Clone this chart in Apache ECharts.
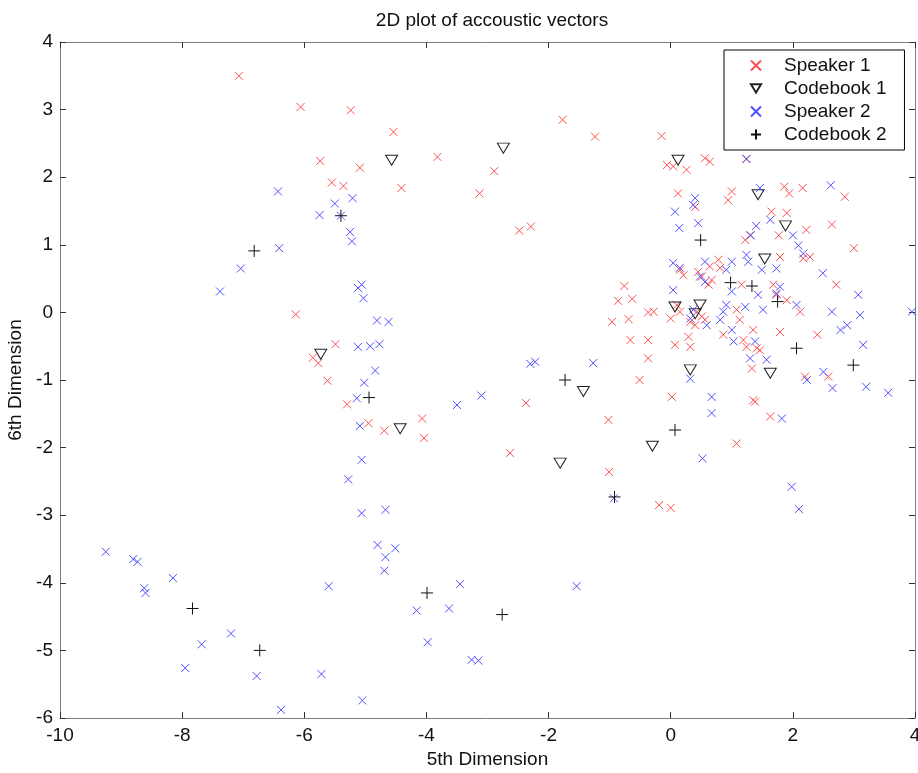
<!DOCTYPE html>
<html>
<head>
<meta charset="utf-8">
<script src="https://cdn.jsdelivr.net/npm/echarts@6/dist/echarts.min.js"></script>
<style>
  html, body { margin: 0; padding: 0; background: #fff; }
  #chart { width: 918px; height: 773px; }
</style>
</head>
<body>
<div id="chart"></div>
<script>
// speaker 1 acoustic vectors (5th dim, 6th dim)
const speaker1 = [
  [-7.07, 3.50], [-6.06, 3.04], [-5.24, 2.99], [-4.54, 2.67], [-5.74, 2.24], [-3.82, 2.30],
  [-5.09, 2.14], [-5.55, 1.92], [-5.36, 1.87], [-4.41, 1.84], [-2.89, 2.09], [-3.13, 1.76],
  [-2.48, 1.21], [-2.29, 1.27], [-1.77, 2.85], [-1.24, 2.60],
  [-0.15, 2.61], [-0.06, 2.18], [0.04, 2.16], [0.26, 2.11], [0.56, 2.28], [0.64, 2.23],
  [0.12, 1.76], [1.00, 1.79], [0.94, 1.66], [1.86, 1.86], [1.94, 1.76], [2.16, 1.84],
  [2.85, 1.71], [0.40, 1.56], [1.65, 1.49], [1.90, 1.47], [2.64, 1.30], [2.22, 1.22],
  [1.77, 1.14], [1.22, 1.07], [1.30, 1.14], [3.00, 0.95], [1.24, 2.27],
  [0.15, 0.63], [0.21, 0.55], [0.45, 0.60], [0.51, 0.53], [0.64, 0.68], [0.78, 0.78],
  [0.81, 0.66], [0.67, 0.48], [0.62, 0.41], [1.79, 0.82], [2.17, 0.80], [2.28, 0.82],
  [1.16, 0.41], [1.68, 0.41], [1.73, 0.26], [1.90, 0.18], [2.71, 0.41], [-0.28, 0.01],
  [0.00, -0.09], [0.10, 0.11], [0.15, 0.01], [0.32, -0.14], [0.40, -0.19], [0.43, 0.01],
  [0.51, -0.06], [0.56, -0.11], [1.08, 0.04], [1.13, -0.11], [0.86, -0.33], [1.35, -0.26],
  [1.19, -0.41], [1.24, -0.51], [1.41, -0.53], [1.46, -0.56], [1.33, -0.83], [1.79, -0.29],
  [2.40, -0.33], [2.12, 0.01], [0.07, -0.48], [0.32, -0.51], [0.29, -0.36], [0.02, -1.25],
  [1.35, -1.30], [1.38, -1.32], [1.63, -1.54], [1.08, -1.94], [2.20, -0.95], [2.58, -0.95],
  [-0.76, 0.39], [-0.86, 0.17], [-0.63, 0.20], [-0.96, -0.14], [-0.69, -0.10], [-0.66, -0.41],
  [-0.51, -1.00], [-0.37, -0.68], [-0.37, -0.41], [-0.37, 0.00],
  [-6.14, -0.03], [-5.49, -0.47], [-5.86, -0.67], [-5.77, -0.75], [-5.62, -1.01], [-5.30, -1.36],
  [-4.95, -1.64], [-4.69, -1.75], [-4.07, -1.57], [-4.04, -1.86], [-2.37, -1.34], [-2.63, -2.08],
  [-1.02, -1.59], [-1.01, -2.36], [-0.19, -2.85], [0.00, -2.89]
];

// codebook 1 centroids
const codebook1 = [
  [0.12, 2.25], [1.43, 1.74], [1.88, 1.28], [1.54, 0.79], [-4.57, 2.25], [-2.74, 2.43],
  [-5.73, -0.62], [-4.43, -1.72], [-1.43, -1.17], [-1.81, -2.23], [-0.30, -1.98], [0.07, 0.08],
  [0.40, -0.02], [0.48, 0.11], [0.32, -0.85], [1.63, -0.90]
];

// speaker 2 acoustic vectors
const speaker2 = [
  [1.24, 2.27], [2.62, 1.88], [1.46, 1.84], [0.40, 1.69], [0.37, 1.59], [0.07, 1.49],
  [0.14, 1.25], [0.45, 1.32], [1.63, 1.37], [1.40, 1.28], [2.00, 1.14], [2.09, 0.99],
  [2.17, 0.87], [1.31, 1.14],
  [0.04, 0.73], [0.15, 0.66], [0.56, 0.75], [1.00, 0.75], [1.24, 0.85], [1.27, 0.75],
  [1.49, 0.63], [1.73, 0.65], [2.49, 0.58], [0.48, 0.53], [0.56, 0.45], [0.91, 0.63],
  [0.04, 0.33], [1.00, 0.31], [1.43, 0.26], [1.79, 0.38], [1.73, 0.28], [2.06, 0.11],
  [1.51, 0.04], [1.22, 0.08], [0.91, 0.11], [0.86, 0.01], [0.81, -0.11], [0.37, 0.04],
  [0.32, -0.09], [0.59, -0.19], [1.00, -0.26], [1.03, -0.43], [1.38, -0.43], [1.30, -0.68],
  [1.57, -0.70], [2.64, 0.01], [3.07, 0.26], [3.10, -0.04], [2.78, -0.26], [2.89, -0.19],
  [3.15, -0.48], [3.95, 0.01], [0.32, -0.98], [0.67, -1.25], [0.67, -1.49], [1.82, -1.57],
  [2.50, -0.88], [2.23, -1.00], [2.65, -1.12], [3.20, -1.10], [3.56, -1.19], [0.52, -2.16],
  [1.98, -2.58], [2.10, -2.91],
  [-1.27, -0.75], [-2.30, -0.76], [-2.22, -0.73], [-3.10, -1.23], [-3.50, -1.37], [-1.54, -4.05],
  [-0.93, -2.75],
  [-6.43, 1.79], [-5.50, 1.61], [-5.21, 1.69], [-5.75, 1.44], [-5.40, 1.43], [-5.25, 1.19],
  [-5.22, 1.05], [-6.41, 0.95], [-7.04, 0.65], [-7.38, 0.31], [-5.12, 0.36], [-5.06, 0.41],
  [-5.03, 0.21], [-4.81, -0.12], [-4.62, -0.14], [-5.12, -0.51], [-4.92, -0.50], [-4.77, -0.47],
  [-4.84, -0.86], [-5.02, -1.04], [-5.14, -1.27], [-5.09, -1.68], [-5.06, -2.18], [-5.28, -2.47],
  [-5.06, -2.97], [-4.67, -2.92], [-4.80, -3.44], [-4.51, -3.49], [-4.67, -3.62], [-4.69, -3.82],
  [-3.45, -4.02], [-4.16, -4.41], [-3.63, -4.38], [-3.98, -4.88], [-3.26, -5.14], [-3.15, -5.15],
  [-5.05, -5.74], [-5.60, -4.05], [-9.25, -3.54], [-8.80, -3.65], [-8.73, -3.69], [-8.62, -4.08],
  [-8.60, -4.15], [-8.15, -3.93], [-7.68, -4.91], [-7.20, -4.75], [-7.95, -5.26], [-6.78, -5.38],
  [-5.72, -5.35], [-6.38, -5.88]
];

// codebook 2 centroids
const codebook2 = [
  [-6.82, 0.91], [-5.40, 1.43], [-4.94, -1.26], [-1.73, -1.00], [0.49, 1.07], [0.98, 0.44],
  [1.33, 0.39], [1.75, 0.16], [2.06, -0.53], [2.99, -0.78], [0.07, -1.74], [-0.92, -2.73],
  [-7.83, -4.38], [-6.73, -5.00], [-3.99, -4.15], [-2.76, -4.47]
];

const seriesNames = ['Speaker 1', 'Codebook 1', 'Speaker 2', 'Codebook 2'];

const FONT = 'Liberation Sans, Arial, sans-serif';
const X_MARK = 'path://M0,0L10,10M0,10L10,0';
const TRI_DOWN = 'path://M0,0L12,0L6,10Z';
const PLUS = 'path://M6,0L6,12M0,6L12,6';

const chart = echarts.init(document.getElementById('chart'), null, { renderer: 'canvas' });

const markerSeries = (name, data, symbol, size, color) => ({
  name: name,
  type: 'scatter',
  data: data,
  symbol: symbol,
  symbolSize: size,
  itemStyle: { color: 'rgba(0,0,0,0)', borderColor: color, borderWidth: 1, opacity: 1 },
  emphasis: { disabled: true },
  silent: true
});

const baseAxis = {
  axisLine: { show: true, onZero: false, lineStyle: { color: '#7f7f7f', width: 1 } },
  axisTick: { show: true, inside: true, length: 6, lineStyle: { color: '#333' } },
  splitLine: { show: false }
};

const option = {
  animation: false,
  backgroundColor: '#fff',
  title: {
    text: '2D plot of accoustic vectors',
    left: 487,
    top: 6,
    textAlign: 'center',
    textStyle: { fontFamily: FONT, fontSize: 19, fontWeight: 'normal', color: '#111' }
  },
  grid: { left: 60, right: 3, top: 42, bottom: 55, containLabel: false, outerBoundsMode: 'none' },
  legend: {
    data: seriesNames,
    orient: 'vertical',
    left: 724,
    top: 50,
    padding: [6, 18, 6, 26],
    itemGap: 4,
    itemWidth: 10,
    itemHeight: 10,
    backgroundColor: '#fff',
    borderColor: '#000',
    borderWidth: 1,
    borderRadius: 0,
    textStyle: { fontFamily: FONT, fontSize: 19, color: '#111', padding: [0, 0, 0, 18] }
  },
  xAxis: [
    Object.assign({}, baseAxis, {
      type: 'value', min: -10, max: 4, interval: 2, position: 'bottom',
      name: '5th Dimension', nameLocation: 'middle', nameGap: 32,
      nameTextStyle: { fontFamily: FONT, fontSize: 19, color: '#111' },
      axisLabel: { fontFamily: FONT, fontSize: 19, color: '#111', margin: 8 }
    }),
    Object.assign({}, baseAxis, {
      type: 'value', min: -10, max: 4, interval: 2, position: 'top',
      axisLabel: { show: false }
    })
  ],
  yAxis: [
    Object.assign({}, baseAxis, {
      type: 'value', min: -6, max: 4, interval: 1, position: 'left',
      name: '6th Dimension', nameLocation: 'middle', nameGap: 33,
      nameTextStyle: { fontFamily: FONT, fontSize: 19, color: '#111' },
      axisLabel: { fontFamily: FONT, fontSize: 19, color: '#111', margin: 7 }
    }),
    Object.assign({}, baseAxis, {
      type: 'value', min: -6, max: 4, interval: 1, position: 'right',
      axisLabel: { show: false }
    })
  ],
  series: [
    markerSeries('Speaker 1', speaker1, X_MARK, 8, 'rgb(255,80,80)'),
    markerSeries('Codebook 1', codebook1, TRI_DOWN, [12, 10], '#222'),
    markerSeries('Speaker 2', speaker2, X_MARK, 8, 'rgb(80,80,255)'),
    markerSeries('Codebook 2', codebook2, PLUS, 12, '#111')
  ]
};

chart.setOption(option);
</script>
</body>
</html>
